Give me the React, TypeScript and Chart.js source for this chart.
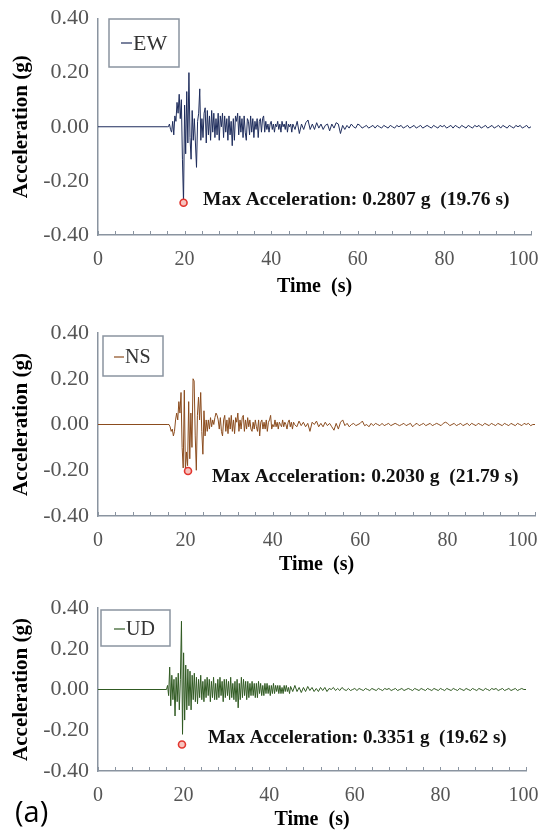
import React, { useEffect, useRef } from "react";
import { Chart, registerables } from "chart.js";

Chart.register(...registerables);

// ---------------- DATA ----------------
// time grid: 0, then 0.25 s from 16 to 44.75, then 0.5 s from 45 to 100
const TIME_FINE = [
  16, 16.25, 16.5, 16.75,
  17, 17.25, 17.5, 17.75,
  18, 18.25, 18.5, 18.75,
  19, 19.25, 19.5, 19.75,
  20, 20.25, 20.5, 20.75,
  21, 21.25, 21.5, 21.75,
  22, 22.25, 22.5, 22.75,
  23, 23.25, 23.5, 23.75,
  24, 24.25, 24.5, 24.75,
  25, 25.25, 25.5, 25.75,
  26, 26.25, 26.5, 26.75,
  27, 27.25, 27.5, 27.75,
  28, 28.25, 28.5, 28.75,
  29, 29.25, 29.5, 29.75,
  30, 30.25, 30.5, 30.75,
  31, 31.25, 31.5, 31.75,
  32, 32.25, 32.5, 32.75,
  33, 33.25, 33.5, 33.75,
  34, 34.25, 34.5, 34.75,
  35, 35.25, 35.5, 35.75,
  36, 36.25, 36.5, 36.75,
  37, 37.25, 37.5, 37.75,
  38, 38.25, 38.5, 38.75,
  39, 39.25, 39.5, 39.75,
  40, 40.25, 40.5, 40.75,
  41, 41.25, 41.5, 41.75,
  42, 42.25, 42.5, 42.75,
  43, 43.25, 43.5, 43.75,
  44, 44.25, 44.5, 44.75,
];
const TIME_COARSE = [
  45, 45.5, 46, 46.5, 47, 47.5, 48, 48.5, 49, 49.5,
  50, 50.5, 51, 51.5, 52, 52.5, 53, 53.5, 54, 54.5,
  55, 55.5, 56, 56.5, 57, 57.5, 58, 58.5, 59, 59.5,
  60, 60.5, 61, 61.5, 62, 62.5, 63, 63.5, 64, 64.5,
  65, 65.5, 66, 66.5, 67, 67.5, 68, 68.5, 69, 69.5,
  70, 70.5, 71, 71.5, 72, 72.5, 73, 73.5, 74, 74.5,
  75, 75.5, 76, 76.5, 77, 77.5, 78, 78.5, 79, 79.5,
  80, 80.5, 81, 81.5, 82, 82.5, 83, 83.5, 84, 84.5,
  85, 85.5, 86, 86.5, 87, 87.5, 88, 88.5, 89, 89.5,
  90, 90.5, 91, 91.5, 92, 92.5, 93, 93.5, 94, 94.5,
  95, 95.5, 96, 96.5, 97, 97.5, 98, 98.5, 99, 99.5,
  100,
];
const TIME = [0, ...TIME_FINE, ...TIME_COARSE];

const EW_FINE = [
  0, 0, 0.01, -0.01,
  -0.02, 0.02, -0.03, 0.04,
  0.02, 0.09, 0.05, 0.12,
  0.03, 0.1, -0.12, -0.2807,
  0.08, -0.1, 0.13, -0.06,
  0.2, -0.04, -0.12, 0.06,
  -0.05, 0.03, -0.06, -0.15,
  0.02, 0.05, 0.14, -0.05,
  0.03, -0.04, 0.05, 0.07,
  -0.06, 0.06, -0.03, 0.04,
  -0.05, 0.06, -0.02, 0.05,
  -0.04, 0.03, -0.03, 0.05,
  -0.05, 0.04, 0.0, 0.05,
  -0.04, 0.04, -0.02, 0.03,
  -0.05, 0.04, -0.03, 0.02,
  -0.07, 0.03, -0.05, 0.04,
  0.02, 0.05, -0.03, 0.04,
  -0.02, 0.03, -0.04, 0.04,
  -0.02, -0.05, 0.03, 0.02,
  -0.03, 0.04, -0.02, 0.03,
  -0.04, 0.02, -0.01, 0.03,
  -0.04, 0.02, 0.03, -0.02,
  0.03, 0.04, -0.02, 0.02,
  -0.01, 0.01, -0.02, 0.01,
  0.02, -0.01, 0.01, -0.02,
  0.01, 0.0, 0.02, -0.01,
  0.01, -0.02, 0.02, 0.0,
  0.01, -0.01, 0.02, -0.02,
  0.01, 0.0, 0.01, -0.02,
];
const EW_COARSE = [
  0.01, -0.01, 0.02, -0.025, 0.01, -0.01, 0.015, 0.025, -0.01, 0.01,
  -0.01, 0.015, -0.005, 0.01, -0.01, 0.005, 0.01, -0.015, 0.01, -0.005,
  0.015, 0.01, -0.025, 0.005, -0.01, 0.005, -0.005, 0.01, 0.0, -0.005,
  0.01, 0.005, -0.005, 0.0, 0.005, -0.005, 0.0, 0.005, -0.005, 0.005,
  0.0, -0.005, 0.005, 0.0, -0.005, 0.005, 0.0, -0.005, 0.005, 0.0,
  0.005, -0.005, 0.0, 0.005, -0.005, 0.0, 0.005, -0.005, 0.0, 0.005,
  -0.005, 0.0, 0.005, 0.0, -0.005, 0.005, 0.0, -0.005, 0.005, 0.0,
  0.005, -0.005, 0.0, 0.005, -0.005, 0.005, 0.0, -0.005, 0.005, 0.0,
  -0.005, 0.005, 0.0, -0.005, 0.005, 0.0, 0.005, -0.005, 0.0, 0.005,
  -0.005, 0.0, 0.005, -0.005, 0.0, 0.005, -0.005, 0.005, 0.0, -0.005,
  0.005, 0.0, -0.005, 0.005, 0.0, 0.005, -0.005, 0.0, 0.005, -0.005,
  0,
];

const NS_FINE = [
  0, 0, -0.01, -0.03,
  -0.02, -0.05, -0.03, 0.02,
  0.05, 0.02, 0.1, 0.05,
  0.14, -0.1, -0.19, 0.15,
  -0.2, -0.12, -0.18, 0.1,
  -0.15, 0.05, -0.1, 0.2,
  0.19, -0.05, -0.2, 0.04,
  0.12, 0.02, 0.14, -0.03,
  -0.13, 0.06, -0.05, 0.02,
  -0.03, 0.02, -0.02, 0.03,
  -0.01, 0.02, 0.0, 0.03,
  0.05, 0.04, 0.02, -0.02,
  0.03, -0.03, -0.05, 0.02,
  0.04, -0.03, 0.02, -0.04,
  0.03, -0.02, 0.04, -0.03,
  0.02, -0.04, 0.03, 0.01,
  0.05, -0.03, 0.02, -0.02,
  0.03, 0.04, -0.03, 0.02,
  -0.02, 0.03, -0.01, 0.02,
  -0.02, -0.03, 0.01, -0.02,
  0.02, -0.01, -0.03, 0.02,
  -0.05, 0.01, 0.02, -0.02,
  0.01, -0.02, 0.02, -0.03,
  0.01, 0.02, 0.04, -0.02,
  0.0, -0.01, 0.02, -0.01,
  0.01, -0.02, 0.01, 0.0,
  -0.01, 0.02, -0.01, 0.01,
  0.0, -0.02, 0.01, 0.02,
  -0.01, 0.01, -0.02, 0.01,
];
const NS_COARSE = [
  0.0, -0.01, 0.015, -0.005, 0.01, -0.01, 0.005, -0.03, 0.01, 0.0,
  0.015, -0.01, 0.005, -0.01, 0.01, -0.005, 0.005, -0.01, -0.025, 0.005,
  -0.02, 0.01, 0.02, -0.005, 0.005, -0.01, 0.0, 0.005, -0.005, 0.0,
  0.005, 0.015, -0.005, 0.0, -0.01, 0.005, -0.005, 0.005, 0.0, -0.005,
  0.005, -0.005, 0.0, 0.005, -0.005, 0.0, 0.005, 0.0, -0.005, 0.0,
  0.005, -0.005, 0.0, 0.005, -0.01, 0.0, 0.005, -0.005, 0.0, 0.005,
  -0.005, 0.0, 0.005, -0.005, 0.0, 0.005, 0.0, -0.005, 0.005, 0.01,
  0.005, -0.005, 0.0, 0.005, -0.005, 0.0, 0.005, -0.005, 0.0, 0.005,
  -0.005, 0.005, 0.0, -0.005, 0.005, 0.0, -0.005, 0.005, 0.0, -0.005,
  0.005, 0.0, -0.005, 0.005, 0.0, -0.005, 0.005, 0.0, -0.005, 0.005,
  0.0, -0.005, 0.005, 0.0, -0.005, 0.005, 0.0, 0.005, -0.005, 0.0,
  0,
];

const UD_FINE = [
  0, 0.02, -0.03, 0.11,
  -0.08, 0.07, -0.05, 0.05,
  -0.13, 0.06, -0.06, 0.08,
  -0.1, 0.05, 0.335, -0.22,
  0.18, -0.15, 0.12, -0.1,
  0.1, -0.08, 0.09, -0.1,
  0.07, -0.05, 0.08, -0.06,
  0.06, -0.07, 0.05, -0.04,
  0.07, -0.05, 0.04, -0.06,
  0.05, -0.04, 0.06, -0.03,
  0.05, -0.06, 0.04, -0.04,
  0.06, -0.05, 0.03, -0.05,
  0.05, -0.04, 0.06, -0.03,
  0.04, -0.06, 0.05, -0.04,
  0.05, -0.03, 0.04, -0.05,
  0.06, -0.04, 0.03, -0.05,
  0.04, -0.06, 0.05, -0.09,
  0.03, -0.05, 0.06, -0.04,
  0.05, -0.03, 0.04, -0.05,
  0.04, -0.04, 0.03, -0.03,
  0.04, -0.03, 0.03, -0.04,
  0.03, -0.04, 0.04, -0.02,
  0.03, -0.03, 0.02, -0.03,
  0.03, -0.02, 0.03, -0.02,
  0.02, -0.03, 0.02, -0.02,
  0.03, -0.02, 0.02, -0.01,
  0.02, -0.02, 0.02, -0.02,
  0.01, -0.02, 0.02, -0.01,
  0.02, -0.01, 0.01, -0.02,
];
const UD_COARSE = [
  0.015, -0.01, 0.02, -0.01, 0.01, -0.015, 0.01, -0.01, 0.015, -0.005,
  0.01, -0.01, 0.005, -0.01, 0.01, -0.005, 0.01, -0.01, 0.005, 0.0,
  0.01, -0.005, 0.005, -0.005, 0.01, 0.0, -0.005, 0.005, -0.005, 0.0,
  0.005, -0.005, 0.005, 0.0, -0.005, 0.005, 0.0, -0.005, 0.005, 0.0,
  -0.005, 0.005, 0.0, -0.005, 0.005, 0.0, 0.005, -0.005, 0.0, 0.005,
  -0.005, 0.0, 0.005, -0.005, 0.0, 0.005, 0.0, -0.005, 0.005, 0.0,
  -0.005, 0.005, 0.0, -0.005, 0.005, 0.0, -0.005, 0.005, 0.0, -0.005,
  0.005, 0.0, -0.005, 0.005, 0.0, -0.005, 0.005, 0.0, -0.005, 0.005,
  0.0, -0.005, 0.005, 0.0, -0.005, 0.005, 0.0, -0.005, 0.005, 0.0,
  -0.005, 0.005, 0.0, -0.005, 0.005, 0.0, 0.005, -0.005, 0.0, 0.005,
  -0.005, 0.0, 0.005, -0.005, 0.0, 0.005, -0.005, 0.0, 0.005, 0.0,
  0,
];

const EW = [0, ...EW_FINE, ...EW_COARSE];
const NS = [0, ...NS_FINE, ...NS_COARSE];
const UD = [0, ...UD_FINE, ...UD_COARSE];

const SERIES_NAMES = ["EW", "NS", "UD"];
const PEAK_T = [19.76, 20.6, 19.62];
const PEAK_V = [-0.2807, -0.203, -0.27];
const PEAK_TEXT = [
  "Max Acceleration: 0.2807 g  (19.76 s)",
  "Max Acceleration: 0.2030 g  (21.79 s)",
  "Max Acceleration: 0.3351 g  (19.62 s)",
];
const X_TICKS = [0, 20, 40, 60, 80, 100];
const X_MINOR_TICKS = [0, 4, 8, 12, 16, 20, 24, 28, 32, 36, 40, 44, 48, 52, 56, 60, 64, 68, 72, 76, 80, 84, 88, 92, 96, 100];
const Y_TICKS = [-0.4, -0.2, 0, 0.2, 0.4];
const X_TITLE = "Time  (s)";
const Y_TITLE = "Acceleration (g)";
const FIG_LABEL = "(a)";

// ---------------- STYLE ----------------
const SERIF = '"Liberation Serif", "Times New Roman", serif';
const AXIS_COLOR = "#8a94a0";
const TICK_COLOR = "#555555";

type PanelProps = {
  idx: number;
  values: number[];
  color: string;
  top: number;
  height: number;
  area: { top: number; bottom: number; right: number };
  legend: { x: number; y: number; w: number; h: number; dash0: number; dash1: number; textX: number; cy: number; size: number };
  note: { x: number; y: number; size: number };
  titlePad: number;
  lastPad: string;
  figLabel?: boolean;
};

function Panel(p: PanelProps) {
  const ref = useRef<HTMLCanvasElement | null>(null);
  useEffect(() => {
    if (!ref.current) return;
    const lineData = TIME.map((t, i) => ({ x: t, y: p.values[i] }));
    const overlay = {
      id: "overlay" + p.idx,
      afterDraw(chart: any) {
        const { ctx, chartArea, scales } = chart;
        const xs = scales.x;
        ctx.save();
        // minor ticks (inward)
        ctx.strokeStyle = AXIS_COLOR;
        ctx.lineWidth = 1;
        ctx.beginPath();
        X_MINOR_TICKS.forEach((v) => {
          const px = Math.round(xs.getPixelForValue(v)) + 0.5;
          ctx.moveTo(px, chartArea.bottom);
          ctx.lineTo(px, chartArea.bottom - 4);
        });
        ctx.stroke();
        // legend box
        const L = p.legend;
        const oy = p.top;
        ctx.fillStyle = "#ffffff";
        ctx.fillRect(L.x, L.y - oy, L.w, L.h);
        ctx.strokeStyle = AXIS_COLOR;
        ctx.lineWidth = 1.5;
        ctx.strokeRect(L.x, L.y - oy, L.w, L.h);
        ctx.strokeStyle = p.color;
        ctx.lineWidth = 1.2;
        ctx.beginPath();
        ctx.moveTo(L.dash0, L.cy - oy);
        ctx.lineTo(L.dash1, L.cy - oy);
        ctx.stroke();
        ctx.fillStyle = "#333333";
        ctx.font = `${L.size}px ${SERIF}`;
        ctx.textBaseline = "middle";
        ctx.textAlign = "left";
        ctx.fillText(SERIES_NAMES[p.idx], L.textX, L.cy - oy + 1);
        // annotation
        ctx.fillStyle = "#111111";
        ctx.font = `bold ${p.note.size}px ${SERIF}`;
        ctx.fillText(PEAK_TEXT[p.idx], p.note.x, p.note.y - oy);
        if (p.figLabel) {
          ctx.font = `29px "Open Sans", "Noto Sans", sans-serif`;
          ctx.fillStyle = "#000000";
          ctx.fillText(FIG_LABEL, 15, 814 - oy);
        }
        ctx.restore();
      },
    };
    const chart = new Chart(ref.current, {
      type: "line",
      data: {
        datasets: [
          {
            data: [{ x: PEAK_T[p.idx], y: PEAK_V[p.idx] }],
            showLine: false,
            pointRadius: 3.5,
            pointBorderWidth: 1.6,
            pointBorderColor: "#e2362f",
            pointBackgroundColor: "#f7c4bf",
          },
          {
            data: lineData,
            borderColor: p.color,
            borderWidth: 1,
            pointRadius: 0,
            tension: 0,
          },
        ],
      },
      options: {
        responsive: false,
        animation: false,
        events: [],
        layout: { padding: { left: 0, right: 546 - p.area.right, top: p.area.top, bottom: 0 } },
        plugins: { legend: { display: false }, tooltip: { enabled: false } },
        scales: {
          x: {
            type: "linear",
            min: 0,
            max: 100,
            afterBuildTicks: (s: any) => {
              s.ticks = X_TICKS.map((v) => ({ value: v }));
            },
            afterFit: (s: any) => {
              s.height = p.height - p.area.bottom;
              s.paddingLeft = 0;
              s.paddingRight = 0;
            },
            grid: { display: false, drawTicks: false },
            border: { display: true, color: AXIS_COLOR, width: 1.5 },
            ticks: {
              padding: 13,
              color: TICK_COLOR,
              font: { family: SERIF, size: 20 },
              maxRotation: 0,
              autoSkip: false,
              callback: (v: any) => (v === 100 ? "100" + p.lastPad : String(v)),
            },
            title: {
              display: true,
              text: X_TITLE,
              color: "#000000",
              font: { family: SERIF, size: 20, weight: "bold" },
              padding: { top: 0, bottom: p.titlePad },
            },
          },
          y: {
            type: "linear",
            min: -0.4,
            max: 0.4,
            afterBuildTicks: (s: any) => {
              s.ticks = Y_TICKS.map((v) => ({ value: v }));
            },
            afterFit: (s: any) => {
              s.width = 98;
              s.paddingTop = 0;
              s.paddingBottom = 0;
            },
            grid: { display: false, drawTicks: false },
            border: { display: true, color: AXIS_COLOR, width: 1.5 },
            ticks: {
              padding: 9,
              color: TICK_COLOR,
              font: { family: SERIF, size: 22 },
              callback: (v: any) => Number(v).toFixed(2),
            },
            title: {
              display: true,
              text: Y_TITLE,
              color: "#000000",
              font: { family: SERIF, size: 21, weight: "bold" },
              padding: { top: 9, bottom: 0 },
            },
          },
        },
      },
      plugins: [overlay],
    } as any);
    return () => chart.destroy();
  }, []);
  return (
    <canvas
      ref={ref}
      width={546}
      height={p.height}
      style={{ position: "absolute", left: 0, top: p.top, width: 546, height: p.height }}
    />
  );
}

export default function App() {
  return (
    <div style={{ position: "absolute", left: 0, top: 0, width: 546, height: 838, background: "#ffffff", overflow: "hidden" }}>
      <Panel
        idx={0}
        values={EW}
        color="#1f2d5c"
        top={0}
        height={300}
        area={{ top: 18.5, bottom: 235, right: 531 }}
        legend={{ x: 109, y: 19, w: 70, h: 48, dash0: 121, dash1: 132, textX: 133, cy: 43, size: 22 }}
        note={{ x: 203, y: 200, size: 19.5 }}
        titlePad={1}
        lastPad="   "
      />
      <Panel
        idx={1}
        values={NS}
        color="#8b4c1e"
        top={300}
        height={280}
        area={{ top: 33, bottom: 216, right: 535 }}
        legend={{ x: 103, y: 336, w: 60, h: 40, dash0: 114, dash1: 124, textX: 125, cy: 357, size: 20 }}
        note={{ x: 212, y: 477, size: 19.5 }}
        titlePad={3}
        lastPad="     "
      />
      <Panel
        idx={2}
        values={UD}
        color="#305a22"
        top={580}
        height={258}
        area={{ top: 28, bottom: 191, right: 526 }}
        legend={{ x: 101, y: 610, w: 69, h: 36, dash0: 114, dash1: 125, textX: 126, cy: 629, size: 20 }}
        note={{ x: 208, y: 738, size: 19 }}
        titlePad={6}
        lastPad=" "
        figLabel
      />
    </div>
  );
}
